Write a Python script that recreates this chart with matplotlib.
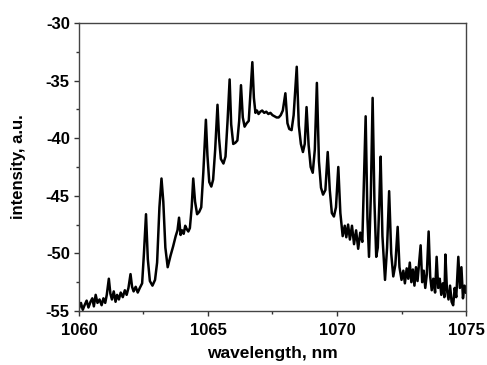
import numpy as np
import matplotlib
matplotlib.use('Agg')
import matplotlib.pyplot as plt
from matplotlib.ticker import MultipleLocator

plt.rcParams['font.family'] = ['Liberation Sans', 'DejaVu Sans']
plt.rcParams['font.weight'] = 'bold'
plt.rcParams['axes.unicode_minus'] = False

# spectrum (wavelength nm, intensity a.u.)
wavelength = [
    1060.00, 1060.08, 1060.15, 1060.22, 1060.30, 1060.37, 1060.45, 1060.52, 1060.58, 1060.65,
    1060.72, 1060.80, 1060.88, 1060.95, 1061.02, 1061.08, 1061.16, 1061.22, 1061.28, 1061.35,
    1061.42, 1061.48, 1061.55, 1061.62, 1061.70, 1061.78, 1061.85, 1061.92, 1062.00, 1062.06,
    1062.12, 1062.20, 1062.28, 1062.36, 1062.45, 1062.52, 1062.60, 1062.67, 1062.75, 1062.85,
    1062.95, 1063.03, 1063.12, 1063.20, 1063.27, 1063.35, 1063.44, 1063.55, 1063.65, 1063.75,
    1063.82, 1063.88, 1063.94, 1064.00, 1064.06, 1064.12, 1064.18, 1064.24, 1064.30, 1064.37,
    1064.43, 1064.50, 1064.58, 1064.66, 1064.74, 1064.82, 1064.92, 1064.98, 1065.05, 1065.13,
    1065.20, 1065.28, 1065.37, 1065.43, 1065.50, 1065.60, 1065.68, 1065.76, 1065.84, 1065.90,
    1065.98, 1066.06, 1066.14, 1066.21, 1066.28, 1066.35, 1066.42, 1066.50, 1066.58, 1066.65,
    1066.72, 1066.78, 1066.84, 1066.90, 1066.96, 1067.03, 1067.10, 1067.18, 1067.26, 1067.34,
    1067.42, 1067.50, 1067.58, 1067.66, 1067.74, 1067.82, 1067.90, 1068.00, 1068.08, 1068.15,
    1068.24, 1068.32, 1068.44, 1068.52, 1068.60, 1068.68, 1068.75, 1068.82, 1068.90, 1068.98,
    1069.06, 1069.14, 1069.22, 1069.30, 1069.38, 1069.46, 1069.55, 1069.64, 1069.72, 1069.80,
    1069.88, 1069.96, 1070.05, 1070.13, 1070.22, 1070.30, 1070.36, 1070.43, 1070.50, 1070.58,
    1070.66, 1070.74, 1070.82, 1070.90, 1070.98, 1071.05, 1071.11, 1071.18, 1071.24, 1071.31,
    1071.38, 1071.45, 1071.52, 1071.58, 1071.64, 1071.69, 1071.76, 1071.86, 1071.94, 1072.02,
    1072.10, 1072.18, 1072.26, 1072.35, 1072.42, 1072.50, 1072.57, 1072.63, 1072.70, 1072.76,
    1072.82, 1072.88, 1072.94, 1073.00, 1073.06, 1073.12, 1073.18, 1073.24, 1073.30, 1073.36,
    1073.42, 1073.48, 1073.55, 1073.61, 1073.67, 1073.73, 1073.80, 1073.86, 1073.92, 1073.98,
    1074.04, 1074.10, 1074.16, 1074.20, 1074.26, 1074.32, 1074.38, 1074.44, 1074.50, 1074.56,
    1074.62, 1074.70, 1074.76, 1074.82, 1074.88, 1074.94, 1075.00,
]
intensity = [
    -54.8, -54.3, -54.9, -54.5, -54.1, -54.7, -54.2, -53.9, -54.6, -53.6,
    -54.3, -54.0, -54.5, -53.9, -54.3, -53.6, -52.2, -53.5, -54.0, -53.3,
    -54.2, -53.6, -54.0, -53.4, -53.8, -53.2, -53.6, -53.0, -51.8, -52.9,
    -53.3, -52.9, -53.4, -53.0, -52.6, -50.0, -46.6, -50.5, -52.4, -52.8,
    -52.3, -50.8, -46.0, -43.5, -45.5, -49.5, -51.2, -50.2, -49.4, -48.5,
    -48.0, -46.9, -48.4, -48.0, -48.3, -47.6, -47.9, -48.1, -47.8, -46.0,
    -43.5, -45.5, -46.6, -46.4, -46.0, -43.0, -38.4, -41.5, -43.8, -44.2,
    -43.6, -41.0, -37.1, -40.0, -41.8, -42.2, -41.6, -38.5, -34.9, -38.8,
    -40.5, -40.4, -40.2, -38.5, -35.4, -38.2, -39.0, -38.7, -38.5, -36.0,
    -33.4, -36.5, -37.8, -37.6, -37.9, -37.7, -37.6, -37.8, -37.7, -37.9,
    -37.8, -38.0, -38.1, -38.2, -38.2, -38.0, -37.6, -36.1, -38.7, -39.2,
    -39.3, -38.0, -33.8, -38.9, -40.5, -41.2, -40.5, -37.3, -40.6, -42.5,
    -43.0, -41.0, -35.2, -42.0, -44.3, -44.9, -44.5, -41.2, -44.5, -46.5,
    -46.8, -46.0, -42.5, -46.5, -48.5, -47.6, -48.6, -47.5, -48.8, -47.6,
    -49.2, -48.0, -49.6, -48.2, -49.0, -43.0, -38.1, -47.0, -50.3, -45.0,
    -36.5, -45.5, -50.3, -49.5, -45.5, -41.6, -48.5, -52.3, -49.5, -44.6,
    -50.0, -52.0, -51.0, -47.7, -51.2, -52.3, -51.5, -52.6, -51.3, -52.2,
    -50.8, -52.5, -51.4, -52.8, -51.2, -52.4, -50.8, -49.3, -52.5, -51.5,
    -53.0, -51.8, -48.1, -52.0, -53.2, -52.2, -53.4, -50.3, -53.0, -52.2,
    -53.6, -52.6, -53.8, -50.1, -53.2, -54.0, -52.8, -54.2, -54.5, -53.0,
    -53.8, -50.3, -53.0, -51.2, -53.9, -52.8, -53.4,
]
xticks = [1060, 1065, 1070, 1075]
yticks = [-55, -50, -45, -40, -35, -30]

fig = plt.figure(figsize=(4.87, 3.65), dpi=100)
ax = fig.add_axes([0.162, 0.148, 0.795, 0.789])
ax.plot(wavelength, intensity, color='black', lw=1.8, solid_joinstyle='round')

ax.set_xlim(1060, 1075)
ax.set_ylim(-55, -30)
ax.set_xticks(xticks)
ax.set_yticks(yticks)
ax.xaxis.set_minor_locator(MultipleLocator(2.5))
ax.yaxis.set_minor_locator(MultipleLocator(2.5))
ax.tick_params(which='both', direction='out', top=False, right=False,
               labelsize=12, width=1, color='#333333')
ax.tick_params(which='major', length=3.5, pad=3)
ax.tick_params(axis='x', which='major', pad=5)
ax.tick_params(which='minor', length=2.5)
for s in ax.spines.values():
    s.set_color('#444444')
    s.set_linewidth(1)

ax.set_xlabel('wavelength, nm', fontsize=12.5, fontweight='bold', labelpad=6)
ax.set_ylabel('intensity, a.u.', fontsize=12, fontweight='bold', labelpad=14)

plt.savefig('out.png', dpi=100)
